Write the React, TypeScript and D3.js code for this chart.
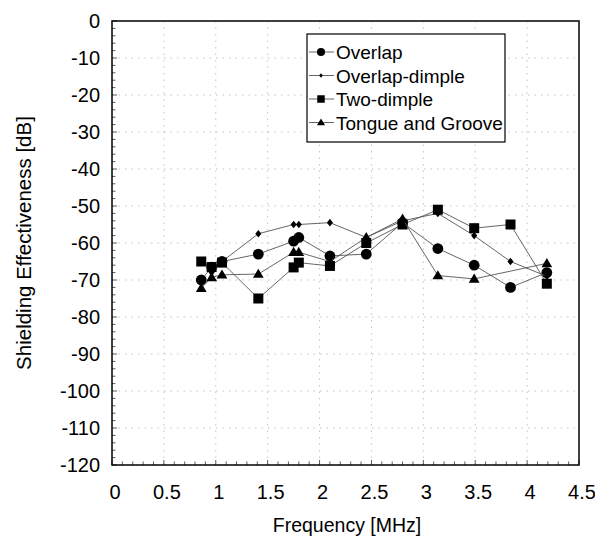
import React from "react";
import * as d3 from "d3";

const xTicks = [0, 0.5, 1, 1.5, 2, 2.5, 3, 3.5, 4, 4.5];
const yTicks = [0, -10, -20, -30, -40, -50, -60, -70, -80, -90, -100, -110, -120];

const overlapFreq = [0.86, 0.96, 1.06, 1.41, 1.75, 1.8, 2.1, 2.45, 2.8, 3.14, 3.49, 3.84, 4.19];
const overlapVals = [-70, -66.5, -65, -63, -59.5, -58.5, -63.5, -63, -54.5, -61.5, -66, -72, -68];

const dimpleFreq = [0.96, 1.06, 1.41, 1.75, 1.8, 2.1, 2.45, 2.8, 3.14, 3.49, 3.84, 4.19];
const dimpleVals = [-68, -65, -57.5, -55, -55, -54.5, -58.5, -54, -52, -58, -65, -69];

const twoFreq = [0.86, 0.96, 1.06, 1.41, 1.75, 1.8, 2.1, 2.45, 2.8, 3.14, 3.49, 3.84, 4.19];
const twoVals = [-65, -66.5, -65.3, -75, -66.6, -65.3, -66.2, -60, -55, -51, -56, -55, -71];

const tongueFreq = [0.86, 0.96, 1.06, 1.41, 1.75, 1.8, 2.1, 2.45, 2.8, 3.14, 3.49, 4.19];
const tongueVals = [-72.2, -69.3, -68.6, -68.4, -62.5, -62.5, -65, -58.5, -53.5, -68.8, -69.7, -65.5];

const seriesNames = ["Overlap", "Overlap-dimple", "Two-dimple", "Tongue and Groove"];

const W = 595, H = 539;
const left = 112, right = 579, top = 21, bottom = 465;
const FONT = "'Liberation Sans', Arial, Helvetica, sans-serif";

type Sym = "circle" | "diamond" | "square" | "triangle";

function Marker({ x, y, kind, scale = 1 }: { x: number; y: number; kind: Sym; scale?: number }) {
  if (kind === "circle") return <circle cx={x} cy={y} r={5.4 * scale} fill="#000" />;
  if (kind === "square") {
    const s = 10 * scale;
    return <rect x={x - s / 2} y={y - s / 2} width={s} height={s} fill="#000" />;
  }
  if (kind === "triangle") {
    const s = 5.4 * scale;
    return <path d={`M${x},${y - s} L${x + s},${y + s * 0.7} L${x - s},${y + s * 0.7} Z`} fill="#000" />;
  }
  const s = 3.8 * scale;
  return <path d={`M${x},${y - s} L${x + s * 0.8},${y} L${x},${y + s} L${x - s * 0.8},${y} Z`} fill="#000" />;
}

export default function App() {
  const x = d3.scaleLinear().domain([0, 4.5]).range([left, right]);
  const y = d3.scaleLinear().domain([-120, 0]).range([bottom, top]);

  const series: { name: string; f: number[]; v: number[]; kind: Sym }[] = [
    { name: seriesNames[0], f: overlapFreq, v: overlapVals, kind: "circle" },
    { name: seriesNames[1], f: dimpleFreq, v: dimpleVals, kind: "diamond" },
    { name: seriesNames[2], f: twoFreq, v: twoVals, kind: "square" },
    { name: seriesNames[3], f: tongueFreq, v: tongueVals, kind: "triangle" },
  ];

  const line = d3
    .line<[number, number]>()
    .x((d) => x(d[0]))
    .y((d) => y(d[1]));

  const minorY = d3.range(-120, 0.01, 2);
  const minorX = d3.range(0, 4.501, 0.1);

  const legX = 307, legY = 34, legW = 198, legH = 108;

  return (
    <svg
      width={W}
      height={H}
      style={{ position: "absolute", left: 0, top: 0, background: "#fff" }}
      fontFamily={FONT}
    >
      <rect x={0} y={0} width={W} height={H} fill="#fff" />
      {/* grid */}
      {yTicks.slice(1, -1).map((t) => (
        <line key={"gy" + t} x1={left} x2={right} y1={y(t)} y2={y(t)} stroke="#aaa" strokeWidth={0.7} strokeDasharray="1.5,5" />
      ))}
      {xTicks.slice(1, -1).map((t) => (
        <line key={"gx" + t} x1={x(t)} x2={x(t)} y1={top} y2={bottom} stroke="#aaa" strokeWidth={0.7} strokeDasharray="1.5,5" />
      ))}
      {/* minor ticks */}
      {minorY.map((t) => (
        <line key={"my" + t} x1={left} x2={left + (t % 10 === 0 ? 5 : 3.5)} y1={y(t)} y2={y(t)} stroke="#333" strokeWidth={0.8} />
      ))}
      {minorX.map((t, i) => (
        <line key={"mx" + i} x1={x(t)} x2={x(t)} y1={bottom} y2={bottom - (i % 5 === 0 ? 5 : 3.5)} stroke="#333" strokeWidth={0.8} />
      ))}
      {/* frame */}
      <rect x={left} y={top} width={right - left} height={bottom - top} fill="none" stroke="#000" strokeWidth={1.5} />
      {/* y tick labels */}
      {yTicks.map((t) => (
        <text key={"yl" + t} x={100} y={y(t) + 7} textAnchor="end" fontSize={20} fill="#000">
          {t}
        </text>
      ))}
      {xTicks.map((t) => (
        <text key={"xl" + t} x={x(t) + 3} y={499} textAnchor="middle" fontSize={20} fill="#000">
          {t}
        </text>
      ))}
      <text x={347} y={532} textAnchor="middle" fontSize={19.5} fill="#000">
        Frequency [MHz]
      </text>
      <text transform={`translate(31, ${(top + bottom) / 2}) rotate(-90)`} textAnchor="middle" fontSize={20.5} fill="#000">
        Shielding Effectiveness [dB]
      </text>
      {/* series */}
      {series.map((s) => {
        const pts = s.f.map((f, i) => [f, s.v[i]] as [number, number]);
        return (
          <g key={s.name}>
            <path d={line(pts) || ""} fill="none" stroke="#555" strokeWidth={0.9} />
            {pts.map((p, i) => (
              <Marker key={i} x={x(p[0])} y={y(p[1])} kind={s.kind} />
            ))}
          </g>
        );
      })}
      {/* legend */}
      <rect x={legX} y={legY} width={legW} height={legH} fill="#fff" stroke="#000" strokeWidth={1.2} />
      {series.map((s, i) => {
        const cy = legY + 18 + i * 23.5;
        return (
          <g key={"lg" + s.name}>
            <line x1={legX + 2} x2={legX + 27} y1={cy} y2={cy} stroke="#555" strokeWidth={0.9} />
            <Marker x={legX + 14} y={cy} kind={s.kind} scale={s.kind === "diamond" ? 0.6 : 0.75} />
            <text x={legX + 29} y={cy + 7} fontSize={19} fill="#000">
              {s.name}
            </text>
          </g>
        );
      })}
    </svg>
  );
}
